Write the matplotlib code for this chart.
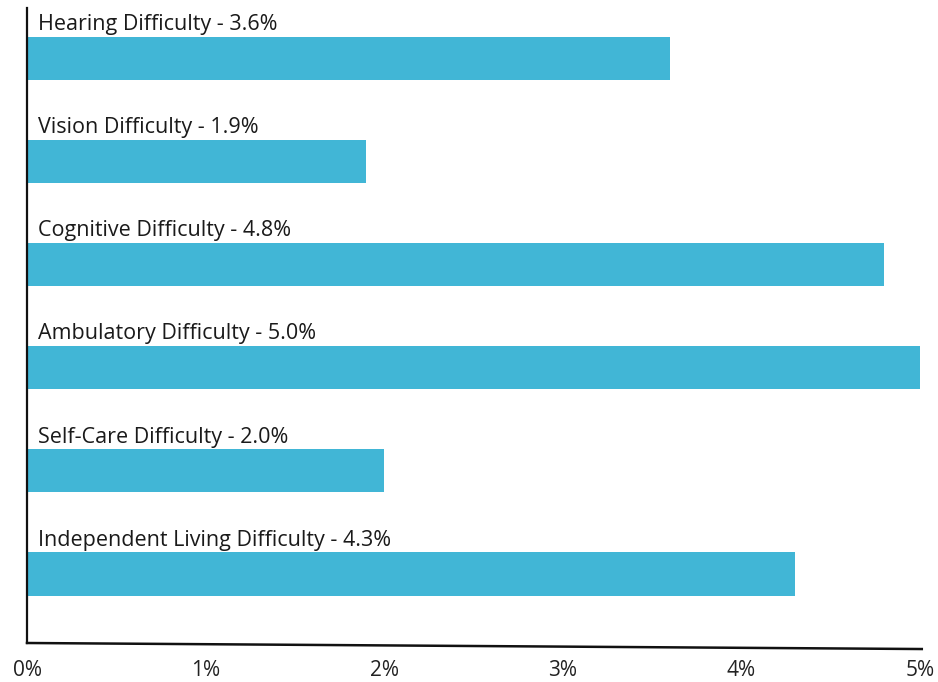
import numpy as np
import matplotlib.pyplot as plt
from matplotlib.lines import Line2D

categories = ['Hearing Difficulty', 'Vision Difficulty', 'Cognitive Difficulty',
              'Ambulatory Difficulty', 'Self-Care Difficulty',
              'Independent Living Difficulty']
values = [3.6, 1.9, 4.8, 5.0, 2.0, 4.3]
tick_values = [0, 1, 2, 3, 4, 5]
tick_labels = ['0%', '1%', '2%', '3%', '4%', '5%']

plt.rcParams['font.family'] = ['Open Sans', 'DejaVu Sans']

fig = plt.figure(figsize=(9.38, 6.82), dpi=100)
ax = fig.add_axes([27 / 938, 1 - 643 / 682, (920 - 27) / 938, (643 - 8) / 682])

pos = np.arange(len(categories))
ax.barh(pos, values, height=0.42, color='#41b6d6')

for i, (name, v) in enumerate(zip(categories, values)):
    ax.text(0.062, i - 0.275, f"{name} - {v:.1f}%", va='baseline', ha='left',
            fontsize=15.5, color='#1a1a1a')

ax.set_xlim(0, 5)
ax.set_ylim(5.67, -0.49)
ax.set_yticks([])
ax.set_xticks(tick_values)
ax.set_xticklabels(tick_labels, fontsize=15, color='#222222')
ax.tick_params(axis='x', length=0, pad=12)

for s in ['top', 'right', 'bottom']:
    ax.spines[s].set_visible(False)
ax.spines['left'].set_linewidth(1.6)
ax.spines['left'].set_color('#111111')

# slightly tilted baseline, as in the original
ax.add_line(Line2D([0, 1.002], [0, -0.0095], transform=ax.transAxes,
                   color='#111111', linewidth=1.8, clip_on=False))

fig.savefig('out.png', dpi=100)
